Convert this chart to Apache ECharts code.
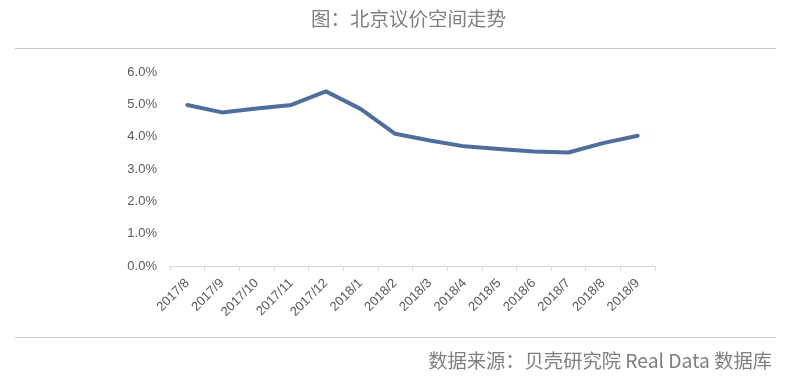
<!DOCTYPE html>
<html><head><meta charset="utf-8">
<script src="https://cdn.jsdelivr.net/npm/echarts@6/dist/echarts.min.js"></script>
<style>html,body{margin:0;padding:0;background:#fff}#c{width:796px;height:388px}</style>
</head><body><div id="c"></div>
<script>
const categories = ['2017/8','2017/9','2017/10','2017/11','2017/12','2018/1','2018/2','2018/3','2018/4','2018/5','2018/6','2018/7','2018/8','2018/9'];
const values = [4.98, 4.75, 4.87, 4.98, 5.40, 4.86, 4.09, 3.88, 3.70, 3.62, 3.54, 3.51, 3.80, 4.03];
const yTicks = [0, 1, 2, 3, 4, 5, 6];
const titleText = '图：北京议价空间走势';
const sourceText = '数据来源：贝壳研究院 Real Data 数据库';

const chart = echarts.init(document.getElementById('c'));
chart.setOption({
  animation: false,
  grid: {left: 170, right: 141, top: 72, bottom: 122},
  graphic: [
    {type: 'text', left: 311, top: 9, style: {text: titleText, fill: '#7f7f7f', font: '19.5px "Noto Sans CJK SC", sans-serif'}},
    {type: 'line', shape: {x1: 15, y1: 48.5, x2: 776, y2: 48.5}, style: {stroke: '#c8c8c8', lineWidth: 1}},
    {type: 'line', shape: {x1: 15, y1: 337.5, x2: 776, y2: 337.5}, style: {stroke: '#c8c8c8', lineWidth: 1}},
    {type: 'text', right: 24, top: 351, style: {text: sourceText, fill: '#7f7f7f', font: '19.3px "Noto Sans CJK SC", sans-serif'}}
  ],
  xAxis: {
    type: 'category', data: categories, boundaryGap: true,
    axisLine: {lineStyle: {color: '#d9d9d9'}},
    axisTick: {show: true, alignWithLabel: false, length: 5, lineStyle: {color: '#d9d9d9'}},
    axisLabel: {rotate: 45, interval: 0, color: '#595959', fontSize: 13, fontFamily: 'Liberation Sans', margin: 15}
  },
  yAxis: {
    type: 'value', min: yTicks[0], max: yTicks[yTicks.length-1], interval: 1,
    axisLine: {show: false}, axisTick: {show: false}, splitLine: {show: false},
    axisLabel: {color: '#595959', fontSize: 13, fontFamily: 'Liberation Sans', margin: 13, formatter: v => v.toFixed(1) + '%'}
  },
  series: [{
    type: 'line', data: values, symbol: 'none',
    lineStyle: {color: '#4e6f9c', width: 4, cap: 'round', join: 'round'}
  }]
});
</script></body></html>
